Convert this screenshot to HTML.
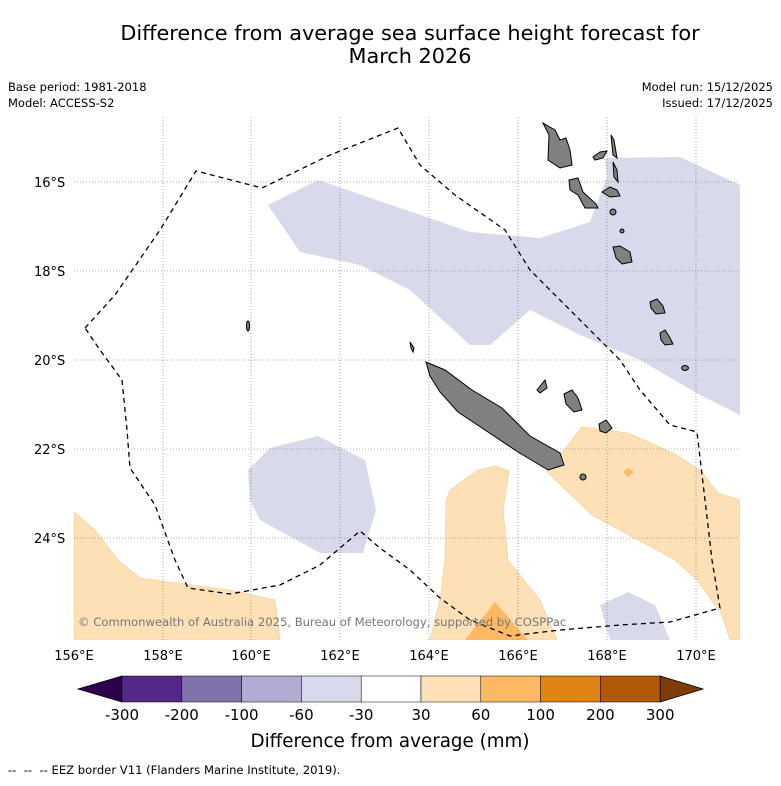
<!DOCTYPE html>
<html><head><meta charset="utf-8"><style>
body{margin:0;background:#fff;font-family:"Liberation Sans","DejaVu Sans",sans-serif;}
svg text{font-family:"DejaVu Sans","Liberation Sans",sans-serif;}
</style></head><body>
<svg width="781" height="781" viewBox="0 0 781 781">
<text x="410" y="40" text-anchor="middle" font-size="20.8">Difference from average sea surface height forecast for</text>
<text x="410" y="63" text-anchor="middle" font-size="20.8">March 2026</text>
<text x="8" y="91" font-size="11.5">Base period: 1981-2018</text>
<text x="8" y="107" font-size="11.5">Model: ACCESS-S2</text>
<text x="773" y="91" font-size="11.5" text-anchor="end">Model run: 15/12/2025</text>
<text x="773" y="107" font-size="11.5" text-anchor="end">Issued: 17/12/2025</text>
<defs><clipPath id="mc"><rect x="74" y="117" width="666" height="523"/></clipPath></defs>
<g clip-path="url(#mc)">
<g fill="#d8daeb">
<polygon points="268,205 318,180 400,208 470,232 540,238 590,222 607,177 605,158 680,157 740,185 740,415 700,395 640,360 580,335 530,310 490,345 470,345 410,290 360,265 300,252"/>
<polygon points="248,470 270,448 318,436 365,460 376,510 363,553 320,553 260,520 250,500"/>
<polygon points="600,605 628,592 655,605 670,640 610,640"/>
</g>
<g fill="#fee0b6" stroke="#f3c98f" stroke-width="0.6">
<polygon points="74,512 95,530 118,560 140,578 230,590 275,600 280,640 74,640"/>
<polygon points="450,490 478,470 495,466 509,471 503,510 508,560 520,575 540,600 557,640 430,640 440,600 445,560 446,500"/>
<polygon points="547,472 582,427 628,433 673,453 700,470 718,493 740,500 740,640 730,640 722,615 697,580 675,560 592,515"/>
</g>
<g fill="#fdb863">
<polygon points="495,602 465,640 528,640"/>
<polygon points="623,472 628,468 634,472 628,477"/>
</g>
<g stroke="#666" stroke-width="0.6" stroke-dasharray="1,2">
<line x1="163" y1="117" x2="163" y2="640"/><line x1="251" y1="117" x2="251" y2="640"/>
<line x1="340" y1="117" x2="340" y2="640"/><line x1="429" y1="117" x2="429" y2="640"/>
<line x1="518" y1="117" x2="518" y2="640"/><line x1="607" y1="117" x2="607" y2="640"/>
<line x1="696" y1="117" x2="696" y2="640"/>
<line x1="74" y1="182" x2="740" y2="182"/><line x1="74" y1="271" x2="740" y2="271"/>
<line x1="74" y1="360" x2="740" y2="360"/><line x1="74" y1="449" x2="740" y2="449"/>
<line x1="74" y1="538" x2="740" y2="538"/>
</g>
<g fill="#808080" stroke="#000" stroke-width="1">
<polygon points="426,362 445,370 472,390 502,408 530,436 560,453 564,465 548,470 518,452 488,432 458,412 440,392 430,376"/>
<polygon points="543,123 549,135 548,160 560,168 572,165 570,150 566,138 560,140 555,130"/>
<polygon points="569,180 578,178 583,192 596,204 598,208 585,208 578,195 570,190"/>
<polygon points="593,157 600,152 607,151 603,158 595,160"/>
<polygon points="611,135 614,140 617,158 613,155"/>
<polygon points="613,162 617,170 618,182 614,177"/>
<polygon points="602,192 610,187 617,190 620,196 610,197"/>
<polygon points="613,247 620,246 630,252 632,262 622,264 616,258"/>
<polygon points="650,302 657,299 663,306 665,313 656,314 651,308"/>
<polygon points="660,333 665,330 670,338 673,344 665,345 661,340"/>
<ellipse cx="685" cy="368" rx="3.5" ry="2.5"/>
<ellipse cx="583" cy="477" rx="3" ry="3"/>
<polygon points="564,394 572,390 578,398 582,410 574,412 566,404"/>
<polygon points="599,424 606,420 612,428 606,433 600,431"/>
<polygon points="537,390 545,380 547,388 540,393"/>
<ellipse cx="248" cy="326" rx="1.5" ry="5"/>
<polygon points="410,342 414,348 413,352 411,348"/>
<ellipse cx="613" cy="212" rx="3" ry="3"/>
<ellipse cx="622" cy="231" rx="2" ry="2"/>
</g>
<polyline fill="none" stroke="#000" stroke-width="1.3" stroke-dasharray="5,4" points="85,328 115,295 160,230 196,171 262,188 330,155 398,128 420,165 455,195 505,230 530,270 575,315 620,360 640,390 670,425 697,432 705,500 712,560 720,608 670,622 620,625 560,630 510,636 470,620 440,598 410,570 380,548 360,531 320,565 280,585 230,594 188,588 175,560 155,505 130,468 127,430 122,380 100,350 85,328"/>
<text x="78" y="626" font-size="11.6" fill="#777">© Commonwealth of Australia 2025, Bureau of Meteorology, supported by COSPPac</text>
</g>
<g font-size="13">
<text x="34" y="187">16°S</text><text x="34" y="276">18°S</text><text x="34" y="365">20°S</text><text x="34" y="454">22°S</text><text x="34" y="543">24°S</text>
</g>
<g font-size="13" text-anchor="middle">
<text x="74" y="660">156°E</text><text x="163" y="660">158°E</text><text x="251" y="660">160°E</text><text x="340" y="660">162°E</text><text x="429" y="660">164°E</text><text x="518" y="660">166°E</text><text x="607" y="660">168°E</text><text x="696" y="660">170°E</text>
</g>
<g id="cbar"></g>
<text x="390" y="747" text-anchor="middle" font-size="18.3">Difference from average (mm)</text>
<text x="8" y="774" font-size="11.6" xml:space="preserve" style="white-space:pre">--  --  -- EEZ border V11 (Flanders Marine Institute, 2019).</text>
</svg>
<script>
const cbColors=["#542788","#8073ac","#b2abd2","#d8daeb","#ffffff","#fee0b6","#fdb863","#e08214","#b35806"];
const cbLabels=["-300","-200","-100","-60","-30","30","60","100","200","300"];
const ns="http://www.w3.org/2000/svg";
const g=document.getElementById('cbar');
const x0=122,w=59.8,y=676,h=26;
function mk(t,a){const e=document.createElementNS(ns,t);for(const k in a)e.setAttribute(k,a[k]);g.appendChild(e);return e;}
const lt=mk('polygon',{points:`78,${y+h/2} ${x0},${y} ${x0},${y+h}`,fill:'#2d004b',stroke:'#000','stroke-width':0.8});


cbColors.forEach((c,i)=>{const r=mk('rect',{x:x0+i*w,y:y,width:w,height:h,fill:c,stroke:'#000','stroke-width':0.5});

});
const xe=x0+cbColors.length*w;
const rt=mk('polygon',{points:`${xe},${y} 703,${y+h/2} ${xe},${y+h}`,fill:'#7f3b08',stroke:'#000','stroke-width':0.8});


cbLabels.forEach((l,i)=>{const t=mk('text',{x:x0+i*w,y:720,'text-anchor':'middle','font-size':15});t.textContent=l;

});
</script>
</body></html>
